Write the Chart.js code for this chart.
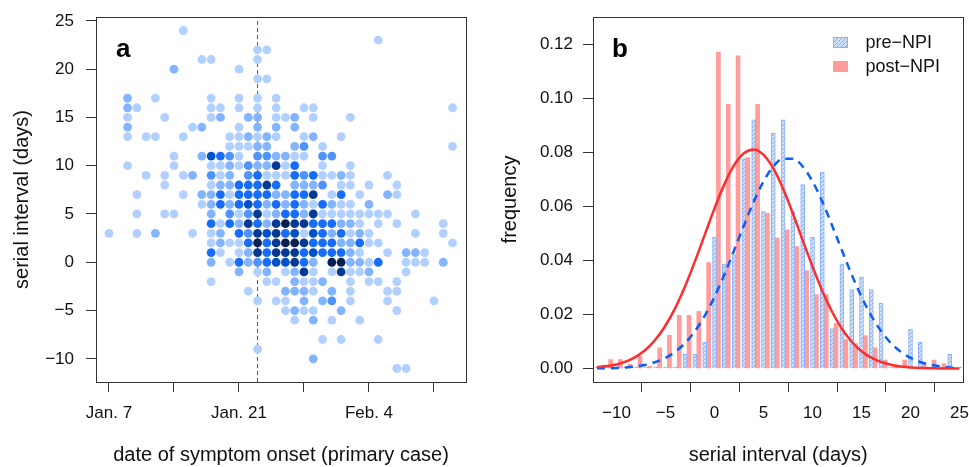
<!DOCTYPE html>
<html>
<head>
<meta charset="utf-8">
<script src="https://cdn.jsdelivr.net/npm/chart.js@4.4.1/dist/chart.umd.min.js"></script>
<style>
  html, body { margin: 0; padding: 0; background: #fff; }
  #wrap { position: relative; width: 969px; height: 467px; }
  canvas { position: absolute; top: 0; }
  #chartA { left: 0; }
  #chartB { left: 484px; }
</style>
</head>
<body>
<div id="wrap">
  <canvas id="chartA" width="484" height="467"></canvas>
  <canvas id="chartB" width="485" height="467"></canvas>
</div>
<script>
// ---- panel a: serial interval vs onset date of the primary case ----
// one string per serial interval (top row = intervalTop), one char per day since Jan. 7
// '.' = no pair, 1..7 = number-of-pairs shade (darker = more)
var intervalTop = 24;
var densityRows = [
  "........1.|..........|..........|........", // 24
  "..........|..........|.........1|........", // 23
  "..........|......11..|..........|........", // 22
  "..........|11....1...|..........|........", // 21
  ".......2..|....1.....|..........|........", // 20
  "..........|......11..|..........|........", // 19
  "..........|..........|..........|........", // 18
  "..2..1....|.1..1.1.1.|..........|........", // 17
  "..21......|.11.1.1.1.|.11.......|.......1", // 16
  "..1...1...|.12..22.11|2.1...1...|........", // 15
  "..2......1|2...1.2.2.|2.........|........", // 14
  "..1.11..1.|...112121.|.12..1....|........", // 13
  "..........|...11122..|23.1......|.......1", // 12
  ".......1..|25431.3322|11.33.....|........", // 11
  "..1....1..|.112132261|4..1..1...|........", // 10
  "....1.1.12|.312.34111|4341121...|1.......", // 9
  "......1...|.12244464.|2223.11.1.|.1......", // 8
  "...1....1.|2241444422|446.14.1..|21......", // 7
  "..........|1242454242|4214211.2.|........", // 6
  "...1..11..|.2.3136124|4261111111|1..1....", // 5
  "..........|.414264267|66444221.1|.1....1.", // 4
  "1..1.2...1|.12.436564|515424121.|...1..1.", // 3
  "..........|.121147467|7644422411|.......1", // 2
  "..........|.41.126466|64544421..|1.221...", // 1
  "..........|.2.1423455|642.772214|..111.2.", // 0
  "..........|....2.12.1|261.16112.|..1.....", // -1
  "..........|.1.....11.|2112..1.11|.1......", // -2
  "..........|.....1...2|221.2.1...|11......", // -3
  "..........|......1.11|.2.23.1...|1....1..", // -4
  "..........|.........1|211..2....|.1......", // -5
  "..........|..........|1.2.1..1..|........", // -6
  "..........|..........|..........|........", // -7
  "..........|..........|...1.1...1|........", // -8
  "..........|......1...|..........|........", // -9
  "..........|..........|..2.......|........", // -10
  "..........|..........|..........|.11....."  // -11
];
var dateTickDays = [0, 7, 14, 21, 28, 35];
var dateTickLabels = ['Jan. 7', '', 'Jan. 21', '', 'Feb. 4', ''];
var lockdownDay = 16; // Jan. 23
var intervalTicks = [-10, -5, 0, 5, 10, 15, 20, 25];

// ---- panel b: serial interval distribution ----
var siDays  = [-12, -11, -10, -9, -8, -7, -6, -5, -4, -3, -2, -1, 0, 1, 2, 3, 4, 5, 6, 7, 8, 9, 10, 11, 12, 13, 14, 15, 16, 17, 18, 19, 20, 21, 22, 23, 24, 25];
var preNPI  = [0.0005, 0.0005, 0.0005, 0.0005, 0.0005, 0.0005, 0.0005, 0.0005, 0.0005, 0.0052, 0.0052, 0.0098,
               0.0485, 0.0386, 0.042, 0.0775, 0.092, 0.058, 0.087, 0.092, 0.058, 0.068, 0.0485, 0.0726, 0.0148,
               0.0387, 0.0292, 0.0338, 0.0292, 0.0242, 0.0005, 0.0005, 0.0146, 0.0097, 0.0005, 0.0005, 0.0052, 0.0005];
var postNPI = [null, 0.0033, 0.0033, 0.0015, 0.0045, 0.0008, 0.0076, 0.0123, 0.0197, 0.0197, 0.0211, 0.0392,
               0.117, 0.0977, 0.1156, 0.078, 0.0977, 0.0574, 0.0482, 0.0513, 0.0451, 0.0362, 0.0273, 0.0273, 0.0166,
               0.0107, 0.0092, 0.0122, 0.0076, 0.0031, 0.0005, 0.0031, null, 0.0015, 0.0031, 0.0018, null, null];
var preFit  = [0.0001, 0.0001, 0.0002, 0.0004, 0.0008, 0.0014, 0.0024, 0.0039, 0.0062, 0.0094, 0.0138, 0.0195,
               0.0265, 0.0347, 0.0437, 0.0529, 0.0617, 0.0692, 0.0747, 0.0776, 0.0776, 0.0747, 0.0692, 0.0617, 0.0529,
               0.0437, 0.0347, 0.0265, 0.0195, 0.0138, 0.0094, 0.0062, 0.0039, 0.0024, 0.0014, 0.0008, 0.0004, 0.0002];
var postFit = [0.0005, 0.0009, 0.0015, 0.0026, 0.0044, 0.0070, 0.0108, 0.0159, 0.0224, 0.0304, 0.0396, 0.0494,
               0.0592, 0.0681, 0.0752, 0.0796, 0.0810, 0.0790, 0.0740, 0.0665, 0.0573, 0.0474, 0.0377, 0.0287, 0.0210,
               0.0147, 0.0099, 0.0064, 0.0040, 0.0024, 0.0014, 0.0007, 0.0004, 0.0002, 0.0001, 0, 0, 0];
var siTicks   = [-10, -5, 0, 5, 10, 15, 20, 25];
var freqTicks = [0, 0.02, 0.04, 0.06, 0.08, 0.10, 0.12];

// ---- styling ----
var baseFont = "'Liberation Sans', Arial, Helvetica, sans-serif";
Chart.defaults.font.family = baseFont;
Chart.defaults.color = '#111';
Chart.defaults.animation = false;

var shade = [null, '#b1d0ff', '#82b4ff', '#4f93ff', '#176dfa', '#0050c8', '#063a92', '#0a2050'];

// tick label fonts: the line heights only steer where Chart.js puts the labels
// (a tall x line pushes labels down without a tick padding that would eat the right margin)
var xTickFont = { size: 17, lineHeight: 2.5 };
var yTickFont = { size: 17, lineHeight: 0.5 };

function minus(v) { return String(v).replace('-', '\u2212'); }
function fixTicks(list) {
  return function (scale) { scale.ticks = list.map(function (v) { return { value: v }; }); };
}

// the R-style box around the plotting region
var boxPlugin = {
  id: 'box',
  afterDraw: function (chart) {
    var a = chart.chartArea, ctx = chart.ctx;
    ctx.save();
    ctx.strokeStyle = '#333';
    ctx.lineWidth = 1;
    ctx.strokeRect(Math.round(a.left) + 0.5, Math.round(a.top) + 0.5,
                   Math.round(a.right - a.left), Math.round(a.bottom - a.top));
    ctx.restore();
  }
};

var tagPlugin = {
  id: 'panelTag',
  afterDraw: function (chart, args, opts) {
    var ctx = chart.ctx;
    ctx.save();
    ctx.font = 'bold 26px ' + baseFont;
    ctx.fillStyle = '#000';
    ctx.textBaseline = 'alphabetic';
    ctx.fillText(opts.text, chart.chartArea.left + opts.dx, chart.chartArea.top + opts.dy);
    ctx.restore();
  }
};

// legend drawn in the top right corner of panel b
var boxLegend = {
  id: 'boxLegend',
  afterDraw: function (chart) {
    var ctx = chart.ctx, a = chart.chartArea;
    var row = 0;
    ctx.save();
    ctx.font = '18px ' + baseFont;
    ctx.textBaseline = 'middle';
    chart.data.datasets.forEach(function (ds) {
      if (ds.type !== 'bar') return;
      var x = Math.round(a.right - 130), y = Math.round(a.top + 20 + row * 24);
      ctx.fillStyle = ds.backgroundColor;
      ctx.fillRect(x, y, 15, 11);
      if (ds.borderWidth) {
        ctx.strokeStyle = ds.borderColor;
        ctx.lineWidth = 1;
        ctx.strokeRect(x + 0.5, y + 0.5, 14, 10);
      }
      ctx.fillStyle = '#111';
      ctx.fillText(ds.label, a.right - 98, y + 6);
      row++;
    });
    ctx.restore();
  }
};

function makeHatch() {
  var c = document.createElement('canvas');
  c.width = 4; c.height = 4;
  var g = c.getContext('2d');
  g.fillStyle = '#cfe1ff';
  g.fillRect(0, 0, 4, 4);
  g.strokeStyle = '#7eadff';
  g.lineWidth = 1;
  g.beginPath();
  g.moveTo(0, 4); g.lineTo(4, 0);
  g.moveTo(-1, 1); g.lineTo(1, -1);
  g.moveTo(3, 5); g.lineTo(5, 3);
  g.stroke();
  return g.createPattern(c, 'repeat');
}

function axisGrid() {
  return { drawOnChartArea: false, drawTicks: true, tickLength: 10, tickColor: '#333', lineWidth: 1 };
}

// ---- build panel a points ----
var cellPoints = [], cellColors = [];
densityRows.forEach(function (row, i) {
  var cells = row.replace(/\|/g, '');
  var interval = intervalTop - i;
  for (var d = 0; d < cells.length; d++) {
    var c = cells.charAt(d);
    if (c === '.') continue;
    cellPoints.push({ x: d, y: interval });
    cellColors.push(shade[+c]);
  }
});

var aMin = -12.4, aMax = 25.4;

new Chart(document.getElementById('chartA'), {
  type: 'scatter',
  data: {
    datasets: [
      {
        data: cellPoints,
        backgroundColor: cellColors,
        borderWidth: 0,
        pointRadius: 4.4,
        pointHoverRadius: 4.4,
        order: 1
      },
      {
        type: 'line',
        data: [{ x: lockdownDay, y: aMin }, { x: lockdownDay, y: aMax }],
        borderColor: '#555',
        borderWidth: 1,
        borderDash: [4, 3],
        pointRadius: 0,
        order: 2
      }
    ]
  },
  options: {
    responsive: false,
    layout: { padding: { left: 0, right: 18, top: 17, bottom: 0 } },
    plugins: {
      legend: { display: false },
      tooltip: { enabled: false },
      panelTag: { text: 'a', dx: 20, dy: 40 }
    },
    scales: {
      x: {
        type: 'linear', min: -1.4, max: 38.45, offset: false,
        afterFit: function (s) { s.height = 85; },
        afterBuildTicks: fixTicks(dateTickDays),
        ticks: {
          autoSkip: false, maxRotation: 0, padding: 0, font: xTickFont,
          callback: function (v) { return dateTickLabels[dateTickDays.indexOf(v)]; }
        },
        grid: axisGrid(),
        border: { display: false },
        title: { display: true, text: 'date of symptom onset (primary case)', font: { size: 20 }, color: '#111', padding: { top: 0, bottom: 0 } }
      },
      y: {
        type: 'linear', min: aMin, max: aMax,
        afterFit: function (s) { s.width = 96; },
        afterBuildTicks: fixTicks(intervalTicks),
        ticks: { autoSkip: false, padding: 12, font: yTickFont, callback: minus },
        grid: axisGrid(),
        border: { display: false },
        title: { display: true, text: 'serial interval (days)', font: { size: 20 }, color: '#111', padding: { top: 10, bottom: 0 } }
      }
    }
  },
  plugins: [boxPlugin, tagPlugin]
});

// ---- panel b ----
var bMin = -12.4, bMax = 25.4;
var postShift = 0.4; // R draws the post-NPI bar just right of the pre-NPI one
function pairs(values) {
  return values.map(function (v, i) { return { x: siDays[i], y: v }; });
}

new Chart(document.getElementById('chartB'), {
  type: 'bar',
  data: {
    datasets: [
      {
        type: 'bar', label: 'pre\u2212NPI', data: pairs(preNPI), xAxisID: 'x',
        backgroundColor: makeHatch(), borderColor: '#86b3ff', borderWidth: 1,
        barThickness: 4, grouped: false, order: 2
      },
      {
        type: 'bar', label: 'post\u2212NPI', data: pairs(postNPI), xAxisID: 'xr',
        backgroundColor: '#ff9c9c', borderWidth: 0,
        barThickness: 4, grouped: false, order: 2
      },
      {
        type: 'line', data: pairs(preFit), xAxisID: 'x',
        borderColor: '#0d5ef8', borderWidth: 2.5, borderDash: [8, 6],
        pointRadius: 0, cubicInterpolationMode: 'monotone', order: 1
      },
      {
        type: 'line', data: pairs(postFit), xAxisID: 'x',
        borderColor: '#ff2e2e', borderWidth: 2.5,
        pointRadius: 0, cubicInterpolationMode: 'monotone', order: 0
      }
    ]
  },
  options: {
    responsive: false,
    layout: { padding: { left: 0, right: 5, top: 17, bottom: 0 } },
    plugins: {
      legend: { display: false },
      tooltip: { enabled: false },
      panelTag: { text: 'b', dx: 19, dy: 40 }
    },
    scales: {
      x: {
        type: 'linear', min: bMin, max: bMax, offset: false,
        afterFit: function (s) { s.height = 85; },
        afterBuildTicks: fixTicks(siTicks),
        ticks: { autoSkip: false, maxRotation: 0, padding: 0, font: xTickFont, callback: minus },
        grid: axisGrid(),
        border: { display: false },
        title: { display: true, text: 'serial interval (days)', font: { size: 20 }, color: '#111', padding: { top: 0, bottom: 0 } }
      },
      xr: {
        type: 'linear', axis: 'x', display: false, offset: false,
        min: bMin - postShift, max: bMax - postShift,
        afterBuildTicks: fixTicks(siTicks),
        grid: { display: false }
      },
      y: {
        type: 'linear', min: -0.005, max: 0.130,
        afterFit: function (s) { s.width = 109; },
        afterBuildTicks: fixTicks(freqTicks),
        ticks: { autoSkip: false, padding: 10, font: yTickFont, callback: function (v) { return v.toFixed(2); } },
        grid: axisGrid(),
        border: { display: false },
        title: { display: true, text: 'frequency', font: { size: 20 }, color: '#111', padding: { top: 14, bottom: 0 } }
      }
    }
  },
  plugins: [boxPlugin, tagPlugin, boxLegend]
});
</script>
</body>
</html>
